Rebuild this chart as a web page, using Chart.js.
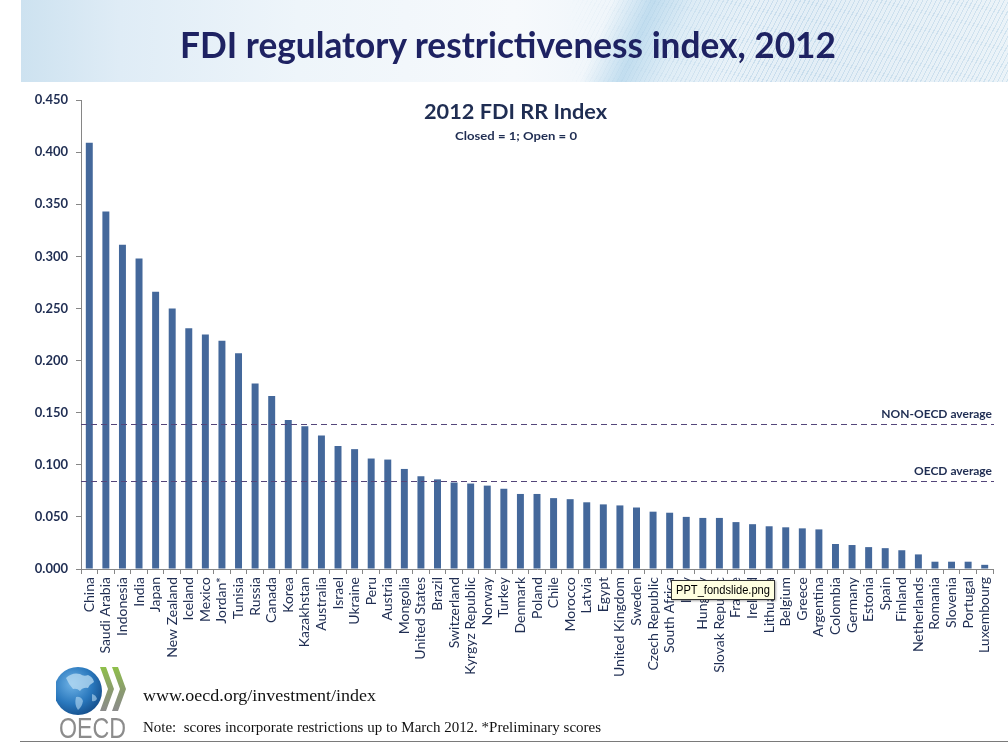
<!DOCTYPE html>
<html>
<head>
<meta charset="utf-8">
<script src="https://cdn.jsdelivr.net/npm/chart.js@4"></script>
<style>
  html, body { margin:0; padding:0; background:#ffffff; }
  body { width:1008px; height:756px; position:relative; overflow:hidden; font-family: Lato, "Noto Sans", sans-serif; }
  #header { position:absolute; left:21px; top:0; width:987px; height:82px;
    background:
      linear-gradient(112deg, rgba(255,255,255,0) 58%, rgba(150,198,228,0.5) 62%, rgba(190,220,238,0.3) 66%, rgba(255,255,255,0) 72%),
      linear-gradient(90deg, #cde2f0 0%, #dfecf6 10%, #eef5fa 28%, #f6f9fc 50%, #eef5fa 62%, #e3eef6 80%, #ebf3f8 100%);
    overflow:hidden; }
  #hatch { position:absolute; left:0; top:0; width:100%; height:100%;
    background: repeating-linear-gradient(118deg, rgba(150,190,220,0.35) 0px, rgba(150,190,220,0.35) 1px, rgba(255,255,255,0) 1px, rgba(255,255,255,0) 4px);
    -webkit-mask-image: linear-gradient(90deg, rgba(0,0,0,0) 55%, rgba(0,0,0,1) 75%, rgba(0,0,0,0.9) 100%);
    mask-image: linear-gradient(90deg, rgba(0,0,0,0) 55%, rgba(0,0,0,1) 75%, rgba(0,0,0,0.9) 100%); }
  .txt { position:absolute; white-space:nowrap; transform-origin: 0 50%; }
  #mainTitle { font-family: Lato, sans-serif; font-weight:700; font-size:37px; color:#1e2262; top:21px; }
  #c { position:absolute; left:0; top:0; }
  #chartTitle { font-family: Lato, sans-serif; font-weight:700; font-size:21px; color:#1f2d52; top:98px; }
  #chartSub { font-family: Lato, sans-serif; font-weight:700; font-size:12px; color:#1f2d52; top:128px; }
  #url { font-family: "Liberation Serif", "DejaVu Serif", serif; font-size:16px; color:#111; top:687px; }
  #note { font-family: "Liberation Serif", "DejaVu Serif", serif; font-size:14px; color:#111; top:720px; }
  #rule { position:absolute; left:20px; top:741px; width:988px; height:1px; background:#7a7a7a; }
  #logo { position:absolute; left:56px; top:664px; }
  #tip { position:absolute; left:671px; top:580px; width:104px; height:20px; background:#ffffe1; border:1px solid #333;
    box-sizing:border-box; box-shadow: 1px 1px 2px rgba(0,0,0,0.35); z-index:5; overflow:hidden; }
  #tipText { position:absolute; left:4px; top:1px; font-family: "Liberation Sans", Arial, sans-serif; font-size:13px; color:#000; line-height:16px; white-space:nowrap; transform-origin:0 50%; }
</style>
</head>
<body>
<div id="header"><div id="hatch"></div></div>
<div id="mainTitle" class="txt">FDI regulatory restrictiveness index, 2012</div>
<canvas id="c" width="1008" height="756"></canvas>
<div id="chartTitle" class="txt">2012 FDI RR Index</div>
<div id="chartSub" class="txt">Closed = 1; Open = 0</div>
<svg id="logo" width="74" height="78" viewBox="0 0 74 78">
  <defs>
    <radialGradient id="gl" cx="38%" cy="35%" r="70%">
      <stop offset="0%" stop-color="#6fb3e6"/>
      <stop offset="60%" stop-color="#2a78bd"/>
      <stop offset="100%" stop-color="#154f8c"/>
    </radialGradient>
    <linearGradient id="ch" x1="0" y1="0" x2="0" y2="1">
      <stop offset="0%" stop-color="#8fc04a"/>
      <stop offset="55%" stop-color="#8a9a70"/>
      <stop offset="100%" stop-color="#8c8c8c"/>
    </linearGradient>
  </defs>
  <circle cx="22" cy="27" r="24" fill="url(#gl)"/>
  <path d="M10 14 q6 -6 14 -4 q4 3 8 1 q5 2 6 7 q-4 2 -6 6 q-5 -1 -8 3 q-3 -3 -7 -2 q-4 -4 -7 -11z" fill="#b9dcf3" opacity="0.75"/>
  <path d="M20 33 q5 -1 7 4 q-1 6 -5 9 q-4 -5 -2 -13z" fill="#b9dcf3" opacity="0.6"/>
  <path d="M36 30 q4 1 5 5 q-2 3 -5 2z" fill="#b9dcf3" opacity="0.6"/>
  <polygon points="44,3 50,3 58,25 50,47 44,47 52,25" fill="url(#ch)"/>
  <polygon points="56,3 62,3 70,25 62,47 56,47 64,25" fill="url(#ch)"/>
  <text x="3" y="74" font-family="Liberation Sans, Arial, sans-serif" font-size="29" fill="#8c8c8c" textLength="67" lengthAdjust="spacingAndGlyphs">OECD</text>
</svg>
<div id="url" class="txt">www.oecd.org/investment/index</div>
<div id="note" class="txt">Note:&nbsp; scores incorporate restrictions up to March 2012. *Preliminary scores</div>
<div id="rule"></div>
<div id="tip"><div id="tipText">PPT_fondslide.png</div></div>
<script>
// ---- data ----
const categories = ["China","Saudi Arabia","Indonesia","India","Japan","New Zealand","Iceland","Mexico","Jordan*","Tunisia",
  "Russia","Canada","Korea","Kazakhstan","Australia","Israel","Ukraine","Peru","Austria","Mongolia",
  "United States","Brazil","Switzerland","Kyrgyz Republic","Norway","Turkey","Denmark","Poland","Chile","Morocco",
  "Latvia","Egypt","United Kingdom","Sweden","Czech Republic","South Africa","Italy","Hungary","Slovak Republic","France",
  "Ireland","Lithuania","Belgium","Greece","Argentina","Colombia","Germany","Estonia","Spain","Finland",
  "Netherlands","Romania","Slovenia","Portugal","Luxembourg"];
const fdiIndex = [0.409,0.343,0.311,0.298,0.266,0.250,0.231,0.225,0.219,0.207,
  0.178,0.166,0.143,0.137,0.128,0.118,0.115,0.106,0.105,0.096,
  0.089,0.086,0.083,0.082,0.080,0.077,0.072,0.072,0.068,0.067,
  0.064,0.062,0.061,0.059,0.055,0.054,0.050,0.049,0.049,0.045,
  0.043,0.041,0.040,0.039,0.038,0.024,0.023,0.021,0.020,0.018,
  0.014,0.007,0.007,0.007,0.004];
const averageLabels = ["NON-OECD average","OECD average"];
const averageValues = [0.139, 0.084];
const yTicksMin = 0, yTicksMax = 0.45, yTicksStep = 0.05;

// ---- text fitting helpers ----
function place(id, left, width) {
  const el = document.getElementById(id);
  const w = el.getBoundingClientRect().width;
  if (left !== null) el.style.left = left + 'px';
  el.style.transform = 'scaleX(' + (width / w) + ')';
}
place('mainTitle', 180, 656);
place('chartTitle', 424, 183);
place('chartSub', 455, 122);
place('url', 143, 233);
place('note', 143, 458);
place('tipText', null, 94);

const navy = '#1f2d52';
const axisGray = '#868686';

const avgPlugin = {
  id: 'avgLines',
  afterDatasetsDraw(chart) {
    const ctx = chart.ctx, ys = chart.scales.y, ca = chart.chartArea;
    ctx.save();
    averageValues.forEach((v, i) => {
      const y = Math.round(ys.getPixelForValue(v)) + 0.5;
      ctx.strokeStyle = '#54467a';
      ctx.lineWidth = 1;
      ctx.setLineDash([6, 4]);
      ctx.beginPath();
      ctx.moveTo(ca.left, y);
      ctx.lineTo(ca.right + 1, y);
      ctx.stroke();
      ctx.setLineDash([]);
      ctx.fillStyle = navy;
      ctx.font = 'bold 12px Lato, sans-serif';
      ctx.textAlign = 'right';
      ctx.textBaseline = 'alphabetic';
      ctx.fillText(averageLabels[i], ca.right - 1, y - 7);
    });
    ctx.restore();
  }
};

new Chart(document.getElementById('c'), {
  type: 'bar',
  data: {
    labels: categories,
    datasets: [{
      data: fdiIndex,
      backgroundColor: '#44689b',
      borderWidth: 0,
      barPercentage: 0.42,
      categoryPercentage: 1.0
    }]
  },
  options: {
    responsive: false,
    animation: false,
    devicePixelRatio: 1,
    layout: { padding: { top: 100, right: 15, left: 0, bottom: 0 } },
    plugins: { legend: { display: false }, tooltip: { enabled: false }, title: { display: false } },
    scales: {
      x: {
        afterFit(s) { s.height = 187; },
        grid: { display: true, drawOnChartArea: false, drawTicks: true, tickLength: 5, color: axisGray, offset: true },
        border: { display: true, color: axisGray, width: 1 },
        ticks: { autoSkip: false, maxRotation: 90, minRotation: 90, padding: 3, color: navy,
                 font: { family: 'Lato, sans-serif', size: 14, weight: 'normal' } }
      },
      y: {
        min: yTicksMin, max: yTicksMax,
        afterFit(s) { s.width = 81; },
        grid: { display: true, drawOnChartArea: false, drawTicks: true, tickLength: 5, color: axisGray },
        border: { display: true, color: axisGray, width: 1 },
        ticks: { stepSize: yTicksStep, padding: 8, color: navy,
                 font: { family: 'Lato, sans-serif', size: 13, weight: 'bold' },
                 callback: v => Number(v).toFixed(3) }
      }
    }
  },
  plugins: [avgPlugin]
});
</script>
</body>
</html>
